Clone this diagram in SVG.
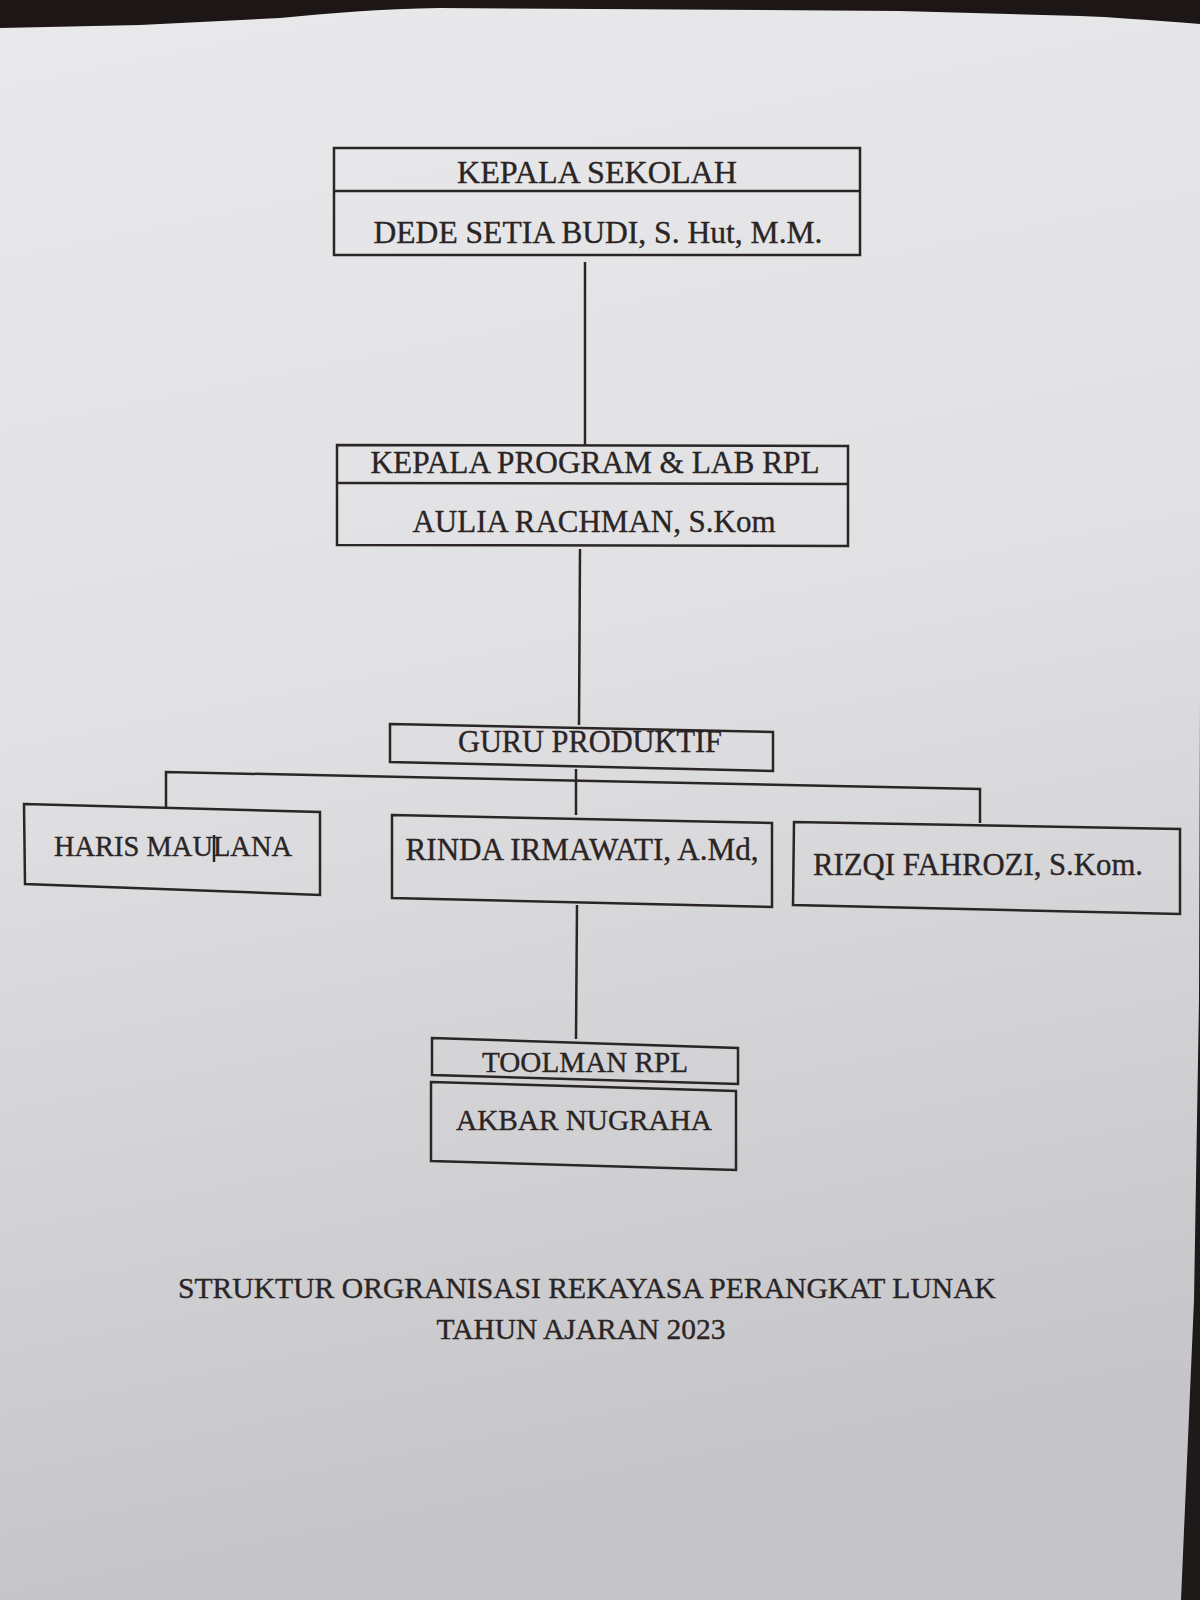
<svg xmlns="http://www.w3.org/2000/svg" width="1200" height="1600" viewBox="0 0 1200 1600">
  <defs>
    <linearGradient id="paper" x1="0" y1="0" x2="0.15" y2="1">
      <stop offset="0" stop-color="#e9e9eb"/>
      <stop offset="0.45" stop-color="#e1e1e3"/>
      <stop offset="1" stop-color="#c5c5c9"/>
    </linearGradient>
    <style>
      .box { fill: none; stroke: #2b2525; stroke-width: 2.5; stroke-linejoin: miter; }
      .conn { fill: none; stroke: #2b2525; stroke-width: 2.5; }
      .t { font-family: "Liberation Serif", "Times New Roman", serif; fill: #2a2424; stroke: #2a2424; stroke-width: 0.35; text-anchor: middle; }
      .f31 { font-size: 32px; }
      .f30 { font-size: 31px; }
      .f29 { font-size: 30px; }
    </style>
  </defs>

  <!-- paper & photo background -->
  <rect x="0" y="0" width="1200" height="1600" fill="url(#paper)"/>
  <path d="M0,0 H1200 V24 C1150,20 1110,17 1080,16 L900,11 L600,9 L440,8 C380,9 330,13 280,18 L140,25 L0,28 Z" fill="#1c1616"/>
  <path d="M1200,700 L1199,1000 L1194,1300 L1181,1600 L1200,1600 Z" fill="#1e1a1a"/>

  <!-- connectors -->
  <g id="connectors">
    <line class="conn" x1="585" y1="262" x2="585" y2="445"/>
    <line class="conn" x1="580" y1="549" x2="579" y2="725"/>
    <line class="conn" x1="576" y1="769" x2="576" y2="815"/>
    <polyline class="conn" points="166,808 166,772 980,789 980,823"/>
    <line class="conn" x1="577" y1="905" x2="576" y2="1039"/>
    <line class="conn" x1="214" y1="835" x2="214" y2="862"/>
  </g>

  <g id="kepala-sekolah">
    <polygon class="box" points="334,148 860,148 860,255 334,255"/>
    <line class="box" x1="334" y1="191" x2="860" y2="191"/>
    <text class="t f31" x="597" y="183" textLength="280" lengthAdjust="spacingAndGlyphs">KEPALA SEKOLAH</text>
    <text class="t f31" x="598" y="243" textLength="449" lengthAdjust="spacingAndGlyphs">DEDE SETIA BUDI, S. Hut, M.M.</text>
  </g>

  <g id="kepala-program">
    <polygon class="box" points="337,445 848,446 848,546 337,545"/>
    <line class="box" x1="337" y1="483" x2="848" y2="484"/>
    <text class="t f31" x="595" y="473" textLength="449" lengthAdjust="spacingAndGlyphs">KEPALA PROGRAM &amp; LAB RPL</text>
    <text class="t f31" x="594" y="532" textLength="363" lengthAdjust="spacingAndGlyphs">AULIA RACHMAN, S.Kom</text>
  </g>

  <g id="guru-produktif">
    <polygon class="box" points="390,724 773,732 773,771 390,762"/>
    <text class="t f30" x="590" y="752" textLength="264" lengthAdjust="spacingAndGlyphs">GURU PRODUKTIF</text>
  </g>

  <g id="haris">
    <polygon class="box" points="24,804 320,812 320,895 25,884"/>
    <text class="t f29" x="173" y="856" textLength="238" lengthAdjust="spacingAndGlyphs">HARIS MAULANA</text>
  </g>

  <g id="rinda">
    <polygon class="box" points="392,815 772,823 772,907 392,898"/>
    <text class="t f30" x="582" y="860" textLength="353" lengthAdjust="spacingAndGlyphs">RINDA IRMAWATI, A.Md,</text>
  </g>

  <g id="rizqi">
    <polygon class="box" points="794,822 1180,829 1180,914 793,905"/>
    <text class="t f30" x="978" y="875" textLength="330" lengthAdjust="spacingAndGlyphs">RIZQI FAHROZI, S.Kom.</text>
  </g>

  <g id="toolman">
    <polygon class="box" points="432,1038 738,1048 738,1084 432,1075"/>
    <text class="t f29" x="585" y="1072" textLength="206" lengthAdjust="spacingAndGlyphs">TOOLMAN RPL</text>
  </g>

  <g id="akbar">
    <polygon class="box" points="431,1082 736,1091 736,1170 431,1161"/>
    <text class="t f29" x="584" y="1130" textLength="256" lengthAdjust="spacingAndGlyphs">AKBAR NUGRAHA</text>
  </g>

  <g id="title">
    <text class="t f29" x="587" y="1298" textLength="818" lengthAdjust="spacingAndGlyphs">STRUKTUR ORGRANISASI REKAYASA PERANGKAT LUNAK</text>
    <text class="t f29" x="581" y="1339" textLength="289" lengthAdjust="spacingAndGlyphs">TAHUN AJARAN 2023</text>
  </g>
</svg>
